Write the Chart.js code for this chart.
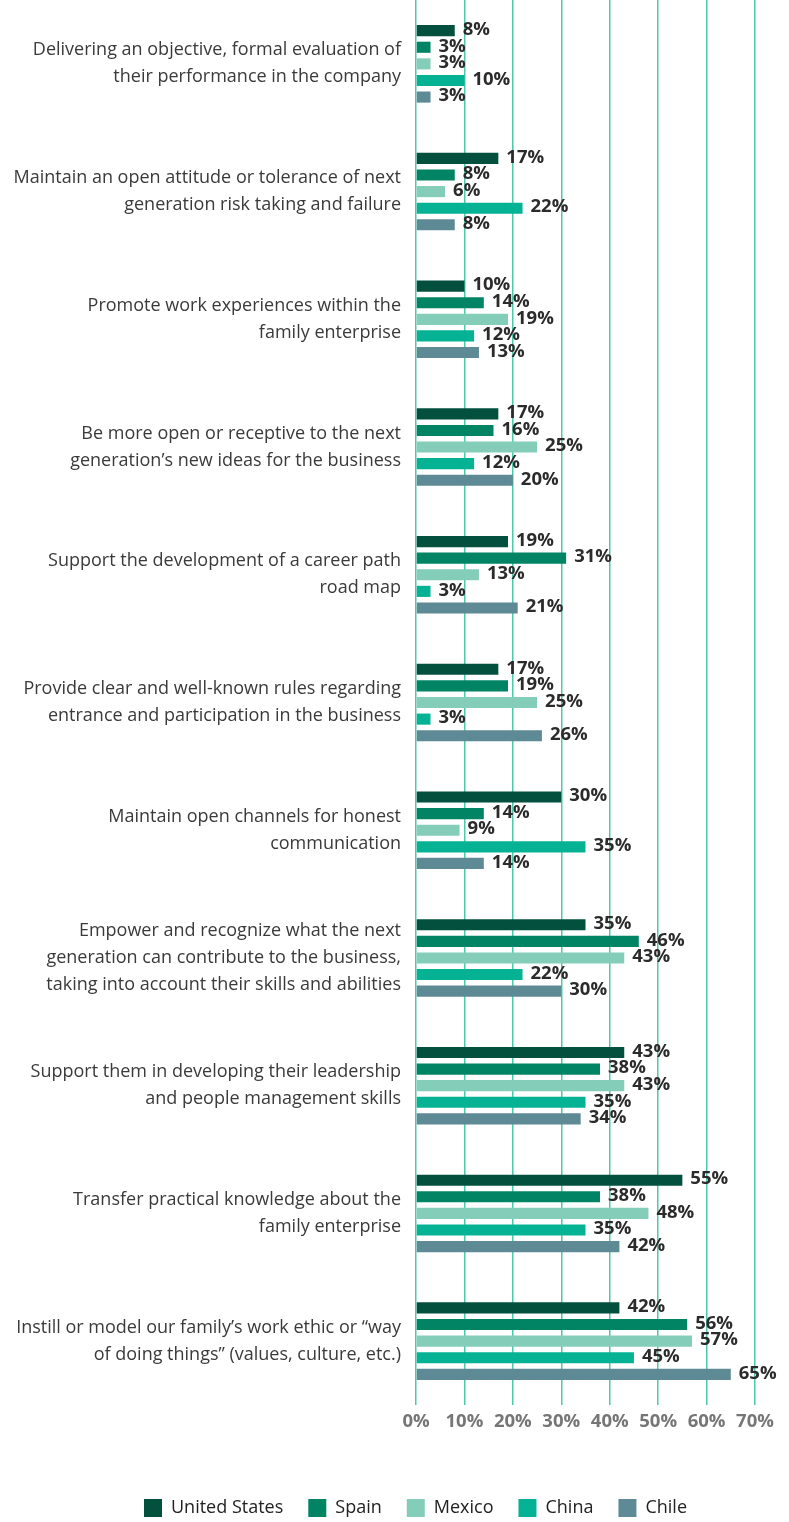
<!DOCTYPE html>
<html>
  <head>
    <meta charset="UTF-8" />
    <title>Next generation support by country</title>
    <style>
      html, body { margin: 0; padding: 0; background: #fff; overflow: hidden; }
      #wrap { position: relative; width: 789px; height: 1527px; }
    </style>
  </head>
  <body>
    <div id="wrap"><canvas id="myCanvas"></canvas></div>
    <script src="https://cdn.jsdelivr.net/npm/chart.js@4/dist/chart.umd.min.js"></script>
    <script>
      const categories = [
        ["Delivering an objective, formal evaluation of", "their performance in the company"],
        ["Maintain an open attitude or tolerance of next", "generation risk taking and failure"],
        ["Promote work experiences within the", "family enterprise"],
        ["Be more open or receptive to the next", "generation\u2019s new ideas for the business"],
        ["Support the development of a career path", "road map"],
        ["Provide clear and well-known rules regarding", "entrance and participation in the business"],
        ["Maintain open channels for honest", "communication"],
        ["Empower and recognize what the next", "generation can contribute to the business,", "taking into account their skills and abilities"],
        ["Support them in developing their leadership", "and people management skills"],
        ["Transfer practical knowledge about the", "family enterprise"],
        ["Instill or model our family\u2019s work ethic or \u201cway", "of doing things\u201d (values, culture, etc.)"]
      ];

      const unitedStates = [8, 17, 10, 17, 19, 17, 30, 35, 43, 55, 42];
      const spain = [3, 8, 14, 16, 31, 19, 14, 46, 38, 38, 56];
      const mexico = [3, 6, 19, 25, 13, 25, 9, 43, 43, 48, 57];
      const china = [10, 22, 12, 12, 3, 3, 35, 22, 35, 35, 45];
      const chile = [3, 8, 13, 20, 21, 26, 14, 30, 34, 42, 65];

      const xTicks = [0, 10, 20, 30, 40, 50, 60, 70];

      const FONT = "'Open Sans', sans-serif";

      // draws the bold % next to every bar
      const valueLabels = {
        id: "valueLabels",
        afterDatasetsDraw(chart) {
          const ctx = chart.ctx;
          ctx.save();
          ctx.font = "bold 18.5px " + FONT;
          ctx.fillStyle = "#2b2b2b";
          ctx.textAlign = "left";
          ctx.textBaseline = "middle";
          chart.data.datasets.forEach((ds, i) => {
            const meta = chart.getDatasetMeta(i);
            meta.data.forEach((bar, j) => {
              ctx.fillText(ds.data[j] + "%", bar.x + 8, bar.y - 1);
            });
          });
          ctx.restore();
        }
      };

      // legend in the original sits a bit right of the centre
      const legendShift = {
        id: "legendShift",
        afterLayout(chart) {
          chart.legend.left += 38;
          chart.legend.right += 38;
        }
      };

      const mk = (label, data, color) => ({
        label: label,
        data: data,
        backgroundColor: color,
        borderWidth: 0,
        barPercentage: 0.67,
        categoryPercentage: 0.65
      });

      var ctx = document.getElementById("myCanvas").getContext("2d");
      var myChart = new Chart(ctx, {
        type: "bar",
        data: {
          labels: categories,
          datasets: [
            mk("United States", unitedStates, "#03503f"),
            mk("Spain", spain, "#008463"),
            mk("Mexico", mexico, "#84cdb8"),
            mk("China", china, "#05b394"),
            mk("Chile", chile, "#5e8a96")
          ]
        },
        options: {
          indexAxis: "y",
          responsive: true,
          maintainAspectRatio: false,
          animation: false,
          layout: { padding: { top: 0, right: 34, bottom: 0, left: 0 } },
          scales: {
            x: {
              min: 0,
              max: 70,
              afterBuildTicks(scale) {
                scale.ticks = xTicks.map(v => ({ value: v }));
              },
              afterFit(scale) {
                scale.height = 69;
              },
              border: { display: false },
              grid: { color: "#4cc8aa", lineWidth: 1.5, drawTicks: false },
              ticks: {
                padding: 6,
                color: "#767676",
                font: { family: FONT, size: 18.5, weight: "bold" },
                callback: v => v + "%"
              }
            },
            y: {
              afterFit(scale) {
                scale.width = 416;
                scale.paddingTop = 0;
                scale.paddingBottom = 0;
              },
              border: { display: false },
              grid: { display: false, drawTicks: false },
              ticks: {
                padding: 15,
                color: "#3a3a3a",
                font: { family: FONT, size: 18, lineHeight: 1.5 }
              }
            }
          },
          plugins: {
            tooltip: { enabled: false },
            legend: {
              position: "bottom",
              labels: {
                boxWidth: 18,
                boxHeight: 18,
                padding: 25,
                color: "#222",
                font: { family: FONT, size: 18 }
              }
            }
          }
        },
        plugins: [valueLabels, legendShift]
      });
    </script>
  </body>
</html>
